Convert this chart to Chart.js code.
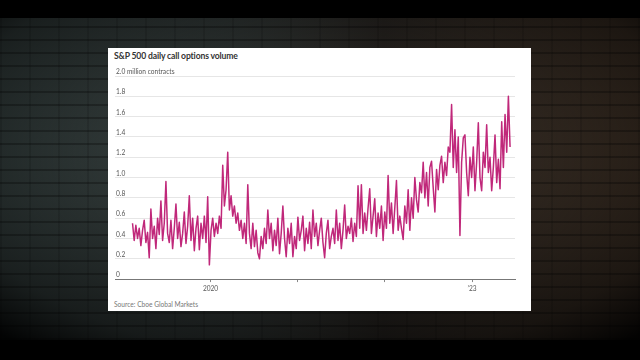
<!DOCTYPE html>
<html>
<head>
<meta charset="utf-8">
<title>S&amp;P 500 daily call options volume</title>
<script src="https://cdn.jsdelivr.net/npm/chart.js"></script>
<style>
	html, body { margin: 0; padding: 0; }
	body {
		width: 640px; height: 360px; position: relative; overflow: hidden;
		background: #000; font-family: Lato, "Noto Sans", sans-serif;
	}
	#wall {
		position: absolute; left: 0; top: 18px; width: 640px; height: 322px;
		background:
			radial-gradient(ellipse 72% 78% at 50% 42%, rgba(0,0,0,0) 35%, rgba(0,0,0,0.55) 82%, rgba(0,0,0,0.95) 100%),
			repeating-linear-gradient(0deg, rgba(0,0,0,0.28) 0 2px, rgba(0,0,0,0) 2px 13px),
			repeating-linear-gradient(90deg, rgba(0,0,0,0.12) 0 2px, rgba(0,0,0,0) 2px 29px),
			linear-gradient(90deg, #3a4645 0%, #2c3231 35%, #23201d 60%, #413327 100%);
	}
	#panel {
		position: absolute; left: 108px; top: 48px; width: 423px; height: 263px;
		background: #fff;
	}
	.txt { position: absolute; white-space: nowrap; }
	#title { left: 114px; top: 51px; font-size: 8.6px; font-weight: bold; color: #333; letter-spacing: -0.15px; }
	#source { left: 114px; top: 300px; font-size: 6.6px; color: #777; }
	#grafico { position: absolute; left: 0; top: 0; }
</style>
</head>
<body>
	<div id="wall"></div>
	<div id="panel"></div>
	<div class="txt" id="title">S&amp;P 500 daily call options volume</div>
	<div class="txt" id="source">Source: Cboe Global Markets</div>
	<canvas id="grafico" width="640" height="360"></canvas>

	<script>
		// weekly readings, Feb 2019 -> Jun 2023, million contracts
		var startYear = 2019.105;
		var weekStep = 7 / 365.25;
		var callVolume = [
			0.55, 0.38, 0.53, 0.40, 0.50, 0.33, 0.48, 0.58, 0.36, 0.46,
			0.21, 0.69, 0.40, 0.52, 0.30, 0.60, 0.44, 0.77, 0.38, 0.55,
			0.96, 0.45, 0.36, 0.58, 0.30, 0.50, 0.74, 0.40, 0.56, 0.32,
			0.45, 0.66, 0.35, 0.52, 0.82, 0.38, 0.60, 0.28, 0.50, 0.62,
			0.29, 0.55, 0.40, 0.62, 0.36, 0.81, 0.14, 0.48, 0.60, 0.42,
			0.55, 0.45, 0.62, 0.50, 1.12, 0.72, 0.88, 1.25, 0.68, 0.82,
			0.62, 0.72, 0.55, 0.65, 0.48, 0.58, 0.40, 0.55, 0.35, 0.93,
			0.45, 0.30, 0.55, 0.32, 0.48, 0.26, 0.20, 0.42, 0.30, 0.50,
			0.35, 0.68, 0.40, 0.55, 0.28, 0.48, 0.33, 0.60, 0.25, 0.45,
			0.72, 0.40, 0.22, 0.50, 0.35, 0.55, 0.22, 0.42, 0.30, 0.61,
			0.38, 0.48, 0.62, 0.28, 0.50, 0.35, 0.56, 0.30, 0.68, 0.42,
			0.55, 0.33, 0.48, 0.60, 0.36, 0.21, 0.45, 0.58, 0.30, 0.42,
			0.50, 0.35, 0.68, 0.38, 0.55, 0.30, 0.48, 0.73, 0.40, 0.52,
			0.45, 0.60, 0.37, 0.55, 0.42, 0.92, 0.50, 0.93, 0.45, 0.65,
			0.48, 0.70, 0.89, 0.45, 0.62, 0.79, 0.42, 0.65, 0.50, 0.72,
			0.38, 0.66, 0.50, 1.02, 0.55, 0.75, 0.45, 0.70, 0.97, 0.48,
			0.62, 0.50, 0.39, 0.72, 0.55, 0.88, 0.48, 0.80, 0.60, 1.00,
			0.78, 0.66, 0.95, 0.85, 1.15, 0.80, 1.05, 0.72, 1.10, 1.16,
			0.90, 0.66, 1.08, 0.88, 1.12, 1.21, 0.95, 1.15, 1.02, 1.30,
			1.25, 1.72, 1.10, 1.47, 1.05, 1.40, 0.43, 1.15, 1.39, 1.42,
			1.05, 0.82, 1.20, 1.00, 1.30, 0.87, 1.15, 1.54, 1.00, 0.87,
			1.25, 1.10, 1.52, 1.05, 1.20, 0.87, 1.10, 1.42, 0.95, 1.18,
			0.89, 1.55, 1.10, 1.62, 1.25, 1.80, 1.30
		];
		var yearTicks = [2020, 2021, 2022, 2023];
		var yearLabels = ['2020', '', '', '\u201923'];
		var volumeTicks = [0, 0.2, 0.4, 0.6, 0.8, 1.0, 1.2, 1.4, 1.6, 1.8, 2.0];
		var volumeLabels = ['0', '0.2', '0.4', '0.6', '0.8', '1.0', '1.2', '1.4', '1.6', '1.8', '2.0 million contracts'];

		var puntos = callVolume.map(function (v, i) {
			return { x: startYear + i * weekStep, y: v };
		});

		var tickFont = { family: 'Lato, "Noto Sans", sans-serif', size: 6.6 };

		var ctx = document.getElementById('grafico').getContext('2d');
		var chart = new Chart(ctx, {
			type: 'line',
			data: {
				datasets: [{
					data: puntos,
					borderColor: '#c0287a',
					borderWidth: 1.5,
					borderJoinStyle: 'round',
					pointRadius: 0,
					tension: 0,
					fill: false
				}]
			},
			options: {
				responsive: false,
				animation: false,
				layout: { padding: { left: 113, right: 125, top: 76, bottom: 64 } },
				plugins: { legend: { display: false }, tooltip: { enabled: false } },
				scales: {
					x: {
						type: 'linear',
						min: 2018.904,
						max: 2023.493,
						afterBuildTicks: function (scale) {
							scale.ticks = yearTicks.map(function (v) { return { value: v }; });
						},
						grid: { drawOnChartArea: false, drawTicks: true, tickLength: 3, color: '#888' },
						border: { display: true, color: '#777', width: 1 },
						ticks: {
							autoSkip: false, maxRotation: 0, padding: 3, color: '#555', font: tickFont,
							callback: function (value) {
								var k = yearTicks.indexOf(value);
								return k >= 0 ? yearLabels[k] : '';
							}
						}
					},
					y: {
						min: 0,
						max: 2,
						afterBuildTicks: function (scale) {
							scale.ticks = volumeTicks.map(function (v) { return { value: v }; });
						},
						grid: { drawTicks: false, color: '#e6e6e6', lineWidth: 1 },
						border: { display: false },
						ticks: {
							mirror: true, padding: 1, labelOffset: -4, color: '#555', font: tickFont,
							callback: function (value) {
								var k = volumeTicks.indexOf(value);
								return k >= 0 ? volumeLabels[k] : '';
							}
						}
					}
				}
			}
		});
	</script>
</body>
</html>
